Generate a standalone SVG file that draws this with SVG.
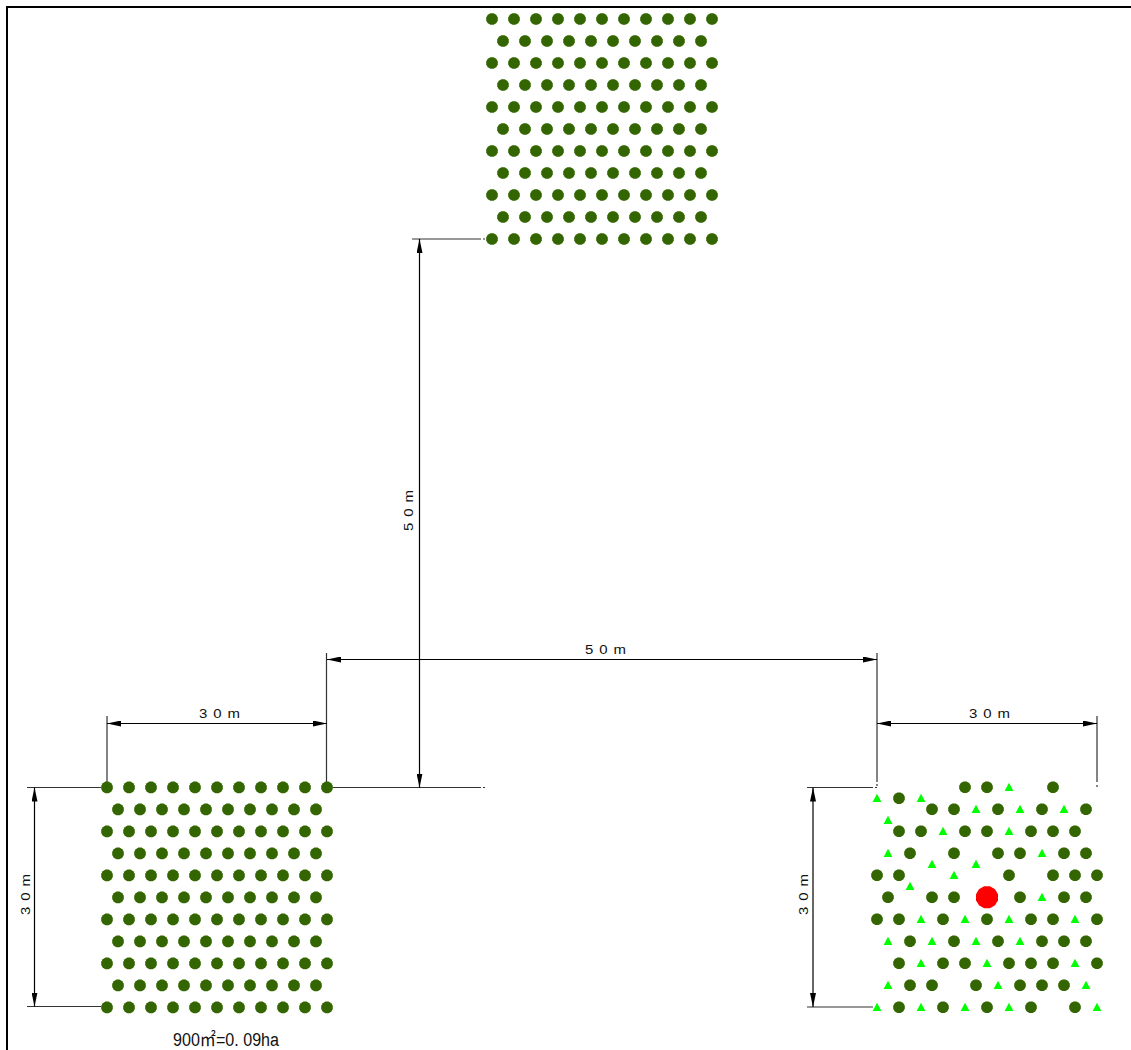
<svg xmlns="http://www.w3.org/2000/svg" width="1131" height="1050" viewBox="0 0 1131 1050">
<style>
.dim{stroke:#000;stroke-width:1.2;fill:none}
.ext{stroke:#333;stroke-width:1.2;fill:none}
.dimt{font-family:"Liberation Sans",sans-serif;font-size:13px;letter-spacing:5.2px;fill:#111}
.a{fill:#000}
</style>
<defs>
<marker id="arr" viewBox="0 0 14 6" refX="14" refY="3" markerWidth="14" markerHeight="6" markerUnits="userSpaceOnUse" orient="auto-start-reverse"><path class="a" d="M0 0L14 3L0 6Z"/></marker>
<polygon id="c" points="5.8,1.55 4.24,4.24 1.55,5.8 -1.55,5.8 -4.24,4.24 -5.8,1.55 -5.8,-1.55 -4.24,-4.24 -1.55,-5.8 1.55,-5.8 4.24,-4.24 5.8,-1.55" fill="#336600"/>
<path id="t" d="M0 -4.6L4.4 3.6H-4.4Z" fill="#00ff00"/>
<g id="rowA"><use href="#c" x="0"/><use href="#c" x="22"/><use href="#c" x="44"/><use href="#c" x="66"/><use href="#c" x="88"/><use href="#c" x="110"/><use href="#c" x="132"/><use href="#c" x="154"/><use href="#c" x="176"/><use href="#c" x="198"/><use href="#c" x="220"/></g>
<g id="rowB"><use href="#c" x="11"/><use href="#c" x="33"/><use href="#c" x="55"/><use href="#c" x="77"/><use href="#c" x="99"/><use href="#c" x="121"/><use href="#c" x="143"/><use href="#c" x="165"/><use href="#c" x="187"/><use href="#c" x="209"/></g>
<g id="plot"><use href="#rowA" y="0"/><use href="#rowB" y="22"/><use href="#rowA" y="44"/><use href="#rowB" y="66"/><use href="#rowA" y="88"/><use href="#rowB" y="110"/><use href="#rowA" y="132"/><use href="#rowB" y="154"/><use href="#rowA" y="176"/><use href="#rowB" y="198"/><use href="#rowA" y="220"/></g>
</defs>
<rect width="1131" height="1050" fill="#fff"/>
<path id="frame" d="M7 1050V7H1131" fill="none" stroke="#000" stroke-width="2"/>
<g id="connectors">
<path class="ext" d="M27 787.5H101M27 1006.5H101M107 716V782M326.5 653V787M333 787.5H481M483 787.5H485M412 239H481M483 239H485M877 653V782M877 784V786M1097 716V782M1097 785V787M807 787.5H873M875 787.5H877M807 1007H873"/>
<line class="dim" x1="34.5" y1="787.5" x2="34.5" y2="1006.5" marker-start="url(#arr)" marker-end="url(#arr)"/>
<line class="dim" x1="107" y1="723.5" x2="327" y2="723.5" marker-start="url(#arr)" marker-end="url(#arr)"/>
<line class="dim" x1="327" y1="659.5" x2="877" y2="659.5" marker-start="url(#arr)" marker-end="url(#arr)"/>
<line class="dim" x1="419.5" y1="239" x2="419.5" y2="787.5" marker-start="url(#arr)" marker-end="url(#arr)"/>
<line class="dim" x1="877" y1="723.5" x2="1097" y2="723.5" marker-start="url(#arr)" marker-end="url(#arr)"/>
<line class="dim" x1="813" y1="787.5" x2="813" y2="1007" marker-start="url(#arr)" marker-end="url(#arr)"/>
</g>
<g id="plot-top"><use href="#plot" x="492" y="19"/></g>
<g id="plot-left"><use href="#plot" x="107" y="787.4"/></g>
<g id="plot-right" transform="translate(0 0.3)">
<g id="trees-right">
<use href="#c" x="965" y="787"/><use href="#c" x="987" y="787"/><use href="#c" x="1053" y="787"/>
<use href="#c" x="899" y="798"/>
<use href="#c" x="932" y="809"/><use href="#c" x="954" y="809"/><use href="#c" x="998" y="809"/><use href="#c" x="1042" y="809"/><use href="#c" x="1086" y="809"/>
<use href="#c" x="899" y="831"/><use href="#c" x="921" y="831"/><use href="#c" x="965" y="831"/><use href="#c" x="987" y="831"/><use href="#c" x="1031" y="831"/><use href="#c" x="1053" y="831"/><use href="#c" x="1075" y="831"/>
<use href="#c" x="910" y="853"/><use href="#c" x="954" y="853"/><use href="#c" x="998" y="853"/><use href="#c" x="1020" y="853"/><use href="#c" x="1064" y="853"/><use href="#c" x="1086" y="853"/>
<use href="#c" x="877" y="875"/><use href="#c" x="899" y="875"/><use href="#c" x="1009" y="875"/><use href="#c" x="1053" y="875"/><use href="#c" x="1075" y="875"/><use href="#c" x="1097" y="875"/>
<use href="#c" x="888" y="897"/><use href="#c" x="932" y="897"/><use href="#c" x="954" y="897"/><use href="#c" x="1020" y="897"/><use href="#c" x="1064" y="897"/><use href="#c" x="1086" y="897"/>
<use href="#c" x="877" y="919"/><use href="#c" x="899" y="919"/><use href="#c" x="943" y="919"/><use href="#c" x="987" y="919"/><use href="#c" x="1031" y="919"/><use href="#c" x="1053" y="919"/><use href="#c" x="1097" y="919"/>
<use href="#c" x="910" y="941"/><use href="#c" x="954" y="941"/><use href="#c" x="998" y="941"/><use href="#c" x="1042" y="941"/><use href="#c" x="1064" y="941"/><use href="#c" x="1086" y="941"/>
<use href="#c" x="899" y="963"/><use href="#c" x="943" y="963"/><use href="#c" x="965" y="963"/><use href="#c" x="1009" y="963"/><use href="#c" x="1031" y="963"/><use href="#c" x="1053" y="963"/><use href="#c" x="1097" y="963"/>
<use href="#c" x="910" y="985"/><use href="#c" x="932" y="985"/><use href="#c" x="976" y="985"/><use href="#c" x="1020" y="985"/><use href="#c" x="1042" y="985"/><use href="#c" x="1064" y="985"/>
<use href="#c" x="899" y="1007"/><use href="#c" x="943" y="1007"/><use href="#c" x="987" y="1007"/><use href="#c" x="1031" y="1007"/><use href="#c" x="1075" y="1007"/>
</g>
<g id="seedlings-right">
<use href="#t" x="1009" y="787"/>
<use href="#t" x="877" y="798"/><use href="#t" x="921" y="798"/>
<use href="#t" x="976" y="809"/><use href="#t" x="1020" y="809"/><use href="#t" x="1064" y="809"/>
<use href="#t" x="888" y="820"/>
<use href="#t" x="943" y="831"/><use href="#t" x="1009" y="831"/>
<use href="#t" x="888" y="853"/><use href="#t" x="1042" y="853"/>
<use href="#t" x="932" y="864"/><use href="#t" x="976" y="864"/>
<use href="#t" x="954" y="875"/>
<use href="#t" x="910" y="886"/>
<use href="#t" x="1042" y="897"/>
<use href="#t" x="921" y="919"/><use href="#t" x="965" y="919"/><use href="#t" x="1009" y="919"/><use href="#t" x="1075" y="919"/>
<use href="#t" x="888" y="941"/><use href="#t" x="932" y="941"/><use href="#t" x="976" y="941"/><use href="#t" x="1020" y="941"/>
<use href="#t" x="921" y="963"/><use href="#t" x="987" y="963"/><use href="#t" x="1075" y="963"/>
<use href="#t" x="888" y="985"/><use href="#t" x="998" y="985"/><use href="#t" x="1086" y="985"/>
<use href="#t" x="877" y="1007"/><use href="#t" x="921" y="1007"/><use href="#t" x="965" y="1007"/><use href="#t" x="1009" y="1007"/><use href="#t" x="1097" y="1007"/>
</g>
<polygon id="red-tree" points="998,894.05 998,899.95 995.06,905.06 989.95,908 984.05,908 978.94,905.06 976,899.95 976,894.05 978.94,888.94 984.05,886 989.95,886 995.06,888.94" fill="#ff0000"/>
</g>
<g id="labels">
<text class="dimt" transform="translate(199 718) scale(1.15 1)">30m</text>
<text class="dimt" transform="translate(585 654) scale(1.15 1)">50m</text>
<text class="dimt" transform="translate(969 718) scale(1.15 1)">30m</text>
<text class="dimt" transform="translate(413 531) rotate(-90) scale(1.15 1)">50m</text>
<text class="dimt" transform="translate(30 915) rotate(-90) scale(1.15 1)">30m</text>
<text class="dimt" transform="translate(808 915) rotate(-90) scale(1.15 1)">30m</text>
<text x="173" y="1046" textLength="106" lengthAdjust="spacingAndGlyphs" font-family="'Liberation Sans','Noto Sans CJK JP',sans-serif" font-size="18" fill="#111">900㎡=0. 09ha</text>
</g>
</svg>
